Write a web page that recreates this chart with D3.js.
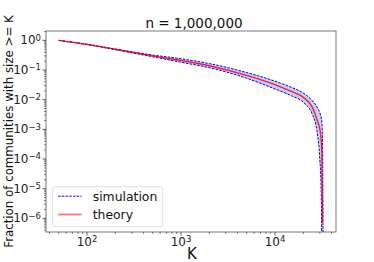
<!DOCTYPE html>
<html>
<head>
<meta charset="utf-8">
<script src="https://cdn.jsdelivr.net/npm/d3@7"></script>
<style>
  html, body { margin: 0; padding: 0; background: #fff; }
  svg { display: block; font-family: "DejaVu Sans", sans-serif; }
</style>
</head>
<body>
<svg id="chart" width="374" height="262"></svg>
<script>
// Data
const kValues  = [50, 100, 200, 500, 1000, 2000, 5000, 10000, 15000, 20000, 25000, 28000, 30000, 31000, 31500, 31800, 32000, 32500];
const theory   = [1.0, 0.73, 0.50, 0.30, 0.21, 0.14, 0.066, 0.032, 0.019, 0.012, 0.0055, 0.0021, 0.001, 4.5e-4, 1.4e-4, 9e-6, 7e-7, null];
const simUpper = [1.0, 0.74, 0.51, 0.32, 0.24, 0.165, 0.082, 0.042, 0.026, 0.0168, 0.0092, 0.0057, 0.0036, 0.0025, 0.0018, 0.0011, 6.6e-4, 1e-7];
const simLower = [1.0, 0.72, 0.485, 0.28, 0.183, 0.12, 0.053, 0.023, 0.0135, 0.0082, 0.0032, 8.5e-4, 9.5e-5, 9e-6, 1e-7, null, null, null];
const xTickExps = [2, 3, 4];
const yTickExps = [0, -1, -2, -3, -4, -5, -6];
const legendLabels = ['simulation', 'theory'];

const svg = d3.select('#chart');
const plot = { left: 46, right: 336, top: 31, bottom: 232 };

const x = d3.scaleLog()
    .domain([Math.pow(10, 1.564), Math.pow(10, 4.649)])
    .range([plot.left, plot.right]);
const y = d3.scaleLog()
    .domain([Math.pow(10, -6.46), Math.pow(10, 0.316)])
    .range([plot.bottom, plot.top]);

svg.append('defs').append('clipPath').attr('id', 'clip')
  .append('rect')
    .attr('x', plot.left).attr('y', plot.top)
    .attr('width', plot.right - plot.left).attr('height', plot.bottom - plot.top);

const g = svg.append('g').attr('clip-path', 'url(#clip)');

// Simulation band (light fill between the runs)
const band = kValues.map((k, i) => ({
    k: k,
    lo: simLower[i] == null ? 1e-7 : simLower[i],
    hi: simUpper[i]
}));
g.append('path')
    .datum(band)
    .attr('fill', 'rgba(40,60,230,0.25)')
    .attr('d', d3.area()
        .curve(d3.curveMonotoneX)
        .x(d => x(d.k))
        .y0(d => y(d.lo))
        .y1(d => y(d.hi)));

const line = d3.line()
    .curve(d3.curveMonotoneX)
    .defined(d => d.v != null)
    .x(d => x(d.k))
    .y(d => y(d.v));

[simUpper, simLower].forEach(series => {
    g.append('path')
        .datum(kValues.map((k, i) => ({ k: k, v: series[i] })))
        .attr('fill', 'none')
        .attr('stroke', '#0000ff')
        .attr('stroke-width', 1)
        .attr('stroke-dasharray', '2.6,1.2')
        .attr('d', line);
});

// Theory line
g.append('path')
    .datum(kValues.map((k, i) => ({ k: k, v: theory[i] })))
    .attr('fill', 'none')
    .attr('stroke', '#ff0000')
    .attr('stroke-opacity', 0.85)
    .attr('stroke-width', 1.4)
    .attr('d', line);

// Axes frame
svg.append('rect')
    .attr('x', plot.left).attr('y', plot.top)
    .attr('width', plot.right - plot.left).attr('height', plot.bottom - plot.top)
    .attr('fill', 'none')
    .attr('stroke', '#555')
    .attr('stroke-width', 0.8);

// Minor ticks
function minorTicks(scale) {
    const [a, b] = scale.domain().map(Math.log10);
    const out = [];
    for (let e = Math.floor(a); e <= Math.ceil(b); e++) {
        for (let m = 2; m <= 9; m++) {
            const v = m * Math.pow(10, e);
            if (Math.log10(v) >= a && Math.log10(v) <= b) out.push(v);
        }
    }
    return out;
}

svg.append('g').selectAll('line')
    .data(minorTicks(x))
    .enter().append('line')
    .attr('x1', d => x(d)).attr('x2', d => x(d))
    .attr('y1', plot.bottom).attr('y2', plot.bottom + 2)
    .attr('stroke', '#333').attr('stroke-width', 0.6);

svg.append('g').selectAll('line')
    .data(minorTicks(y))
    .enter().append('line')
    .attr('y1', d => y(d)).attr('y2', d => y(d))
    .attr('x1', plot.left).attr('x2', plot.left - 2)
    .attr('stroke', '#333').attr('stroke-width', 0.6);

// Major ticks with labels
const xt = svg.append('g').selectAll('g')
    .data(xTickExps)
    .enter().append('g')
    .attr('transform', d => `translate(${x(Math.pow(10, d))},${plot.bottom})`);
xt.append('line').attr('y2', 3.5).attr('stroke', '#333').attr('stroke-width', 0.8);
const xtText = xt.append('text')
    .attr('y', 13.5)
    .attr('text-anchor', 'middle')
    .style('font-size', '12px')
    .attr('fill', '#222');
xtText.append('tspan').text('10');
xtText.append('tspan').attr('dy', '-0.45em').style('font-size', '8.5px').text(d => String(d));

const yt = svg.append('g').selectAll('g')
    .data(yTickExps)
    .enter().append('g')
    .attr('transform', d => `translate(${plot.left},${y(Math.pow(10, d))})`);
yt.append('line').attr('x2', -3.5).attr('stroke', '#333').attr('stroke-width', 0.8);
const ytText = yt.append('text')
    .attr('x', -5)
    .attr('y', 4)
    .attr('text-anchor', 'end')
    .style('font-size', '12px')
    .attr('fill', '#222');
ytText.append('tspan').text('10');
ytText.append('tspan').attr('dy', '-0.45em').style('font-size', '8.5px')
    .text(d => d < 0 ? '\u2212' + Math.abs(d) : String(d));

// Titles
svg.append('text')
    .attr('x', 194).attr('y', 27.5)
    .attr('text-anchor', 'middle')
    .style('font-size', '13.5px')
    .attr('fill', '#111')
    .text('n = 1,000,000');

svg.append('text')
    .attr('x', 192).attr('y', 258.5)
    .attr('text-anchor', 'middle')
    .style('font-size', '15px')
    .attr('fill', '#111')
    .text('K');

svg.append('text')
    .attr('transform', `translate(12.5,${(plot.top + plot.bottom) / 2}) rotate(-90)`)
    .attr('text-anchor', 'middle')
    .style('font-size', '11.8px')
    .attr('fill', '#111')
    .text('Fraction of communities with size >= K');

// Legend
const legend = svg.append('g').attr('transform', 'translate(52.7,186.7)');
legend.append('rect')
    .attr('width', 110).attr('height', 40)
    .attr('rx', 2.5)
    .attr('fill', '#fff').attr('fill-opacity', 0.8)
    .attr('stroke', '#d5d5d5').attr('stroke-width', 0.8);

const items = legend.selectAll('g.item')
    .data(legendLabels)
    .enter().append('g')
    .attr('class', 'item')
    .attr('transform', (d, i) => `translate(0,${9.5 + i * 18.3})`);
items.append('line')
    .attr('x1', 5.5).attr('x2', 29)
    .attr('stroke', (d, i) => i === 0 ? '#0000ff' : '#ff7f7f')
    .attr('stroke-width', (d, i) => i === 0 ? 1 : 2)
    .attr('stroke-dasharray', (d, i) => i === 0 ? '2.5,1.2' : null);
items.append('text')
    .attr('x', 40).attr('y', 4.3)
    .style('font-size', '12.4px')
    .attr('fill', '#111')
    .text(d => d);
</script>
</body>
</html>
